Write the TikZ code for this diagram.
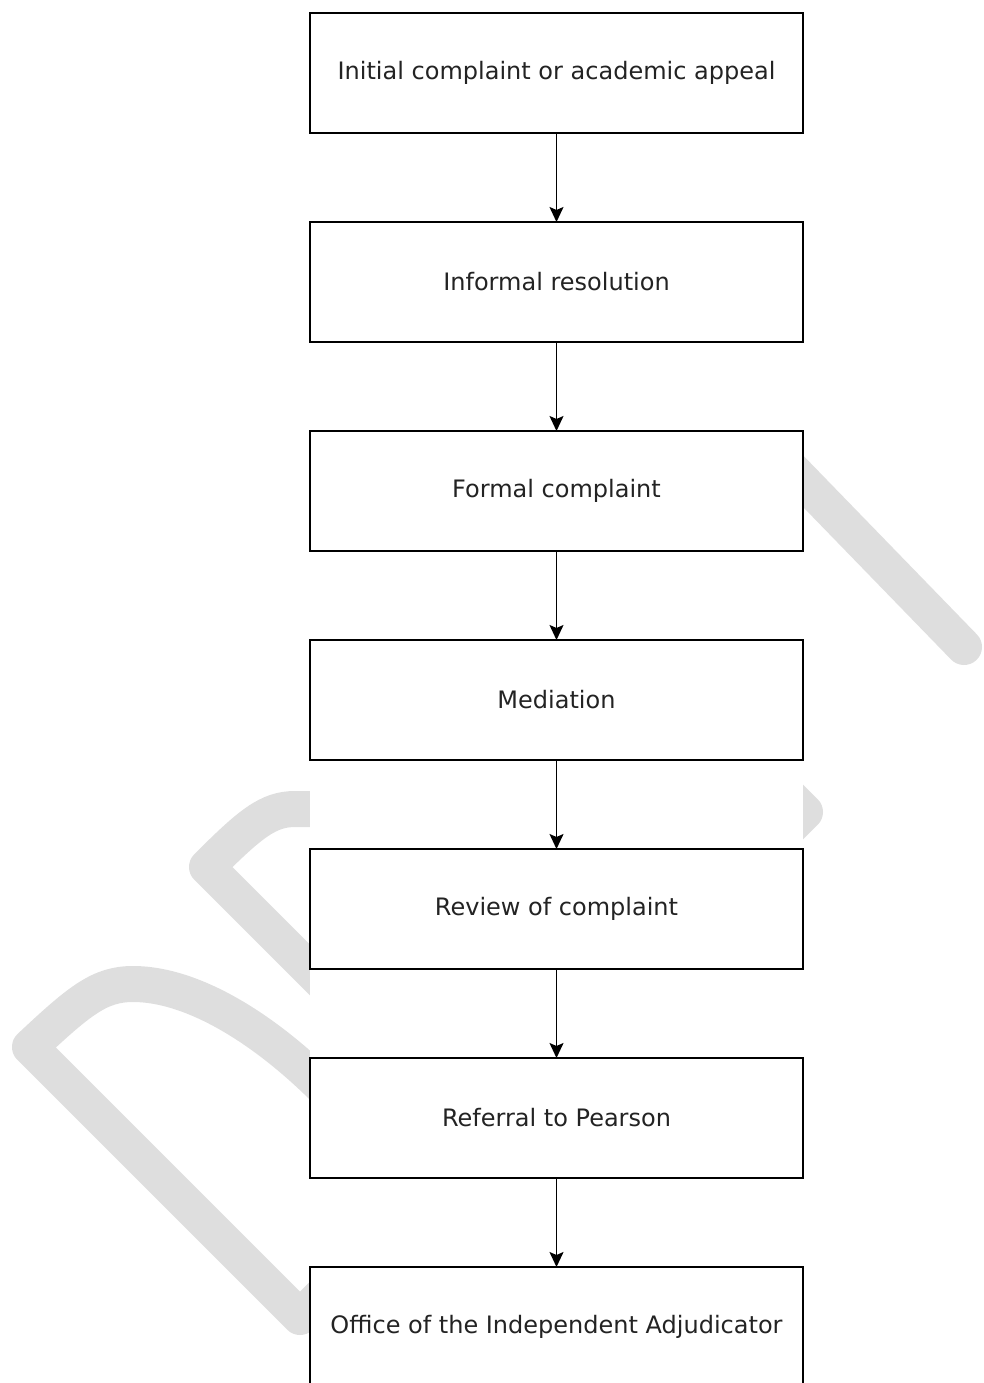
\documentclass[tikz,border=0pt]{standalone}
\usepackage{fontspec}
\setmainfont{DejaVu Sans}
\usetikzlibrary{arrows.meta, positioning}
\definecolor{wmgray}{RGB}{222,222,222}
\definecolor{textgray}{RGB}{35,35,35}

\begin{document}
\begin{tikzpicture}[x=1pt, y=-1pt,
    stage/.style={draw=black, line width=1.5pt, fill=white, minimum width=493pt, minimum height=120pt,
        outer sep=0pt, inner sep=0pt, text=textgray, font=\fontsize{24}{28}\selectfont},
    flow/.style={-{Stealth[width=14pt,length=15pt,inset=3pt]}, line width=1.5pt},
    wm/.style={wmgray, line width=36pt, line cap=round, line join=round},
    node distance=89pt]
    \useasboundingbox (0,0) rectangle (984,1383);
    \clip (0,0) rectangle (984,1383);
    % Watermark
    \draw[wm] (340,809) -- (295,809) .. controls (268,809) and (250,824) .. (207,867) -- (340,1000);
    \draw[wm] (340,1105) .. controls (280,1040) and (200,984) .. (133,984)
        .. controls (100,984) and (80,1000) .. (30,1047) -- (300,1317) -- (360,1257);
    \draw[wm] (700,375) -- (964,647);
    \draw[wm] (740,747) -- (805,812) -- (740,877);
    \fill[white] (310,0) rectangle (803,1383);
    % Stages
    \node[stage, anchor=north] (initial) at (556.5,13) {Initial complaint or academic appeal};
    \node[stage, below=of initial] (informal) {Informal resolution};
    \node[stage, below=of informal] (formal) {Formal complaint};
    \node[stage, below=of formal] (mediation) {Mediation};
    \node[stage, below=of mediation] (review) {Review of complaint};
    \node[stage, below=of review] (referral) {Referral to Pearson};
    \node[stage, below=of referral] (oia) {Office of the Independent Adjudicator};
    % Arrows
    \foreach \a/\b in {initial/informal, informal/formal, formal/mediation,
        mediation/review, review/referral, referral/oia}
        \draw[flow] (\a) -- (\b);
\end{tikzpicture}
\end{document}
